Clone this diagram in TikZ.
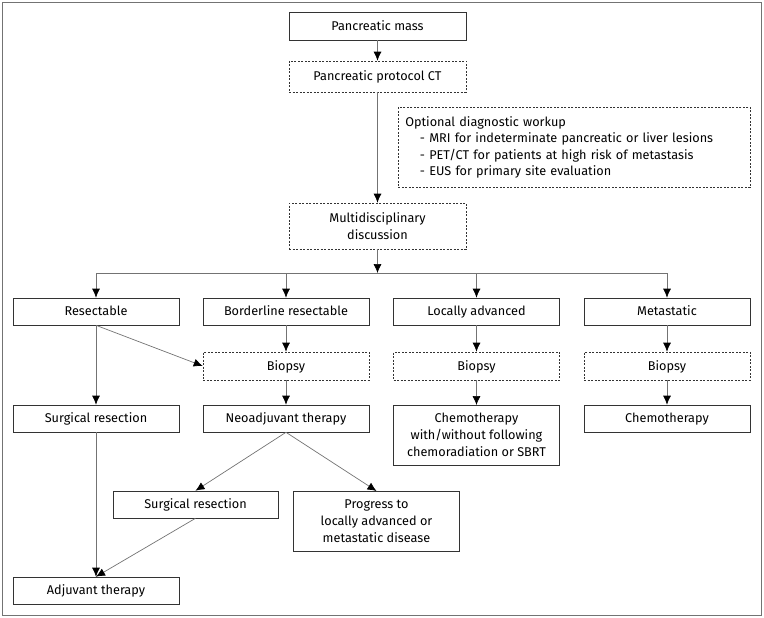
\documentclass[tikz,border=0pt]{standalone}
\usepackage{fontspec}
\setmainfont{Fira Sans}
\usetikzlibrary{arrows.meta}

\tikzset{
  mbox/.style={draw=black!80, line width=0.6pt, minimum width=166pt, minimum height=27pt,
    inner sep=2pt, align=center, font=\fontsize{12.7}{17}\selectfont},
  box/.style={mbox, text height=11pt, text depth=2.5pt},
  dbox/.style={box, dashed, dash pattern=on 2pt off 1.5pt},
  arr/.style={draw=black!55, line width=0.7pt, -{Latex[black,length=9pt,width=8pt]}},
}

\begin{document}
\begin{tikzpicture}[x=1pt, y=-1pt]
                \useasboundingbox (0,0) rectangle (764,618);
                \draw[black!55, line width=0.9pt] (2,2) rectangle (761,615);
                % top of the chart
                \node[box, minimum width=177pt, minimum height=28pt] (mass) at (377.5,26) {Pancreatic mass};
                \node[dbox, minimum width=177pt, minimum height=31pt] (ct) at (377.5,76.5) {Pancreatic protocol CT};
                \node[mbox, dashed, dash pattern=on 2pt off 1.5pt, minimum height=80pt, text width=338pt, inner xsep=7pt,
                    align=left, anchor=north west, font=\fontsize{12.7}{16.5}\selectfont] (opt) at (398,107)
                    {Optional diagnostic workup\\
                     \hspace*{1.15em}- MRI for indeterminate pancreatic or liver lesions\\
                     \hspace*{1.15em}- PET/CT for patients at high risk of metastasis\\
                     \hspace*{1.15em}- EUS for primary site evaluation};
                \node[mbox, dashed, dash pattern=on 2pt off 1.5pt, minimum width=177pt, minimum height=46pt] (mdd) at (377.5,226) {Multidisciplinary\\discussion};
                \coordinate (split) at (377.5,273);
                % four groups
                \node[box] (res) at (96,311.5) {Resectable};
                \node[box] (brd) at (286,311.5) {Borderline resectable};
                \node[box] (lad) at (476.5,311.5) {Locally advanced};
                \node[box] (met) at (667,311.5) {Metastatic};
                \node[dbox, minimum height=28pt] (bio2) at (286,366) {Biopsy};
                \node[dbox, minimum height=28pt] (bio3) at (476.5,366) {Biopsy};
                \node[dbox, minimum height=28pt] (bio4) at (667,366) {Biopsy};
                \node[box] (surg1) at (96,418.5) {Surgical resection};
                \node[box] (neo) at (286,418.5) {Neoadjuvant therapy};
                \node[mbox, minimum height=60pt, anchor=north] (chrt) at (476.5,405) {Chemotherapy\\with/without following\\chemoradiation or SBRT};
                \node[box] (chemo) at (667,418.5) {Chemotherapy};
                \node[box, minimum width=165pt] (surg2) at (195.5,504.5) {Surgical resection};
                \node[mbox, minimum height=60pt, anchor=north] (prog) at (376.5,491) {Progress to\\locally advanced or\\metastatic disease};
                \node[box] (adj) at (96,590.5) {Adjuvant therapy};
                % connectors
                \draw[arr] (mass) -- (ct);
                \draw[arr] (ct) -- (mdd);
                \draw[arr] (mdd) -- (split);
                \draw[arr] (split) -| (res);
                \draw[arr] (split) -| (brd);
                \draw[arr] (split) -| (lad);
                \draw[arr] (split) -| (met);
                \draw[arr] (res) -- (surg1);
                \draw[arr] (res.south) -- (bio2.west);
                \draw[arr] (brd) -- (bio2);
                \draw[arr] (lad) -- (bio3);
                \draw[arr] (met) -- (bio4);
                \draw[arr] (bio2) -- (neo);
                \draw[arr] (bio3) -- (chrt);
                \draw[arr] (bio4) -- (chemo);
                \draw[arr] (surg1) -- (adj);
                \draw[arr] (neo.south) -- (surg2.north);
                \draw[arr] (neo.south) -- (prog.north);
                \draw[arr] (surg2.south) -- (adj.north);
\end{tikzpicture}
\end{document}
